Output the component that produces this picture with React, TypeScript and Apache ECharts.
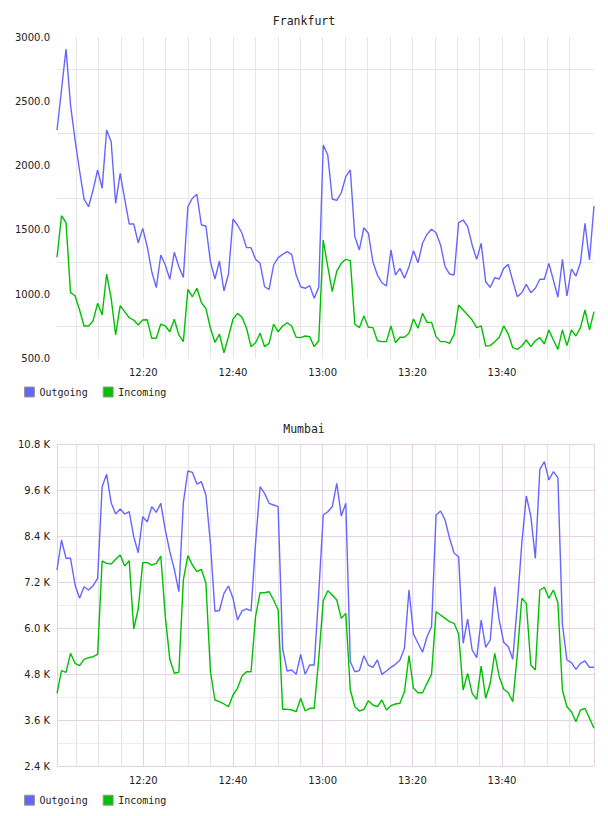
import React, { useEffect, useRef } from 'react';
import * as echarts from 'echarts';

// Sampling: first sample at 12:00:45, then one every ~60.4 s (minutes after 12:00)
const SAMPLE_START_MIN = 0.75;
const SAMPLE_STEP_MIN = 1.0064;

const timeLabels = ['12:20', '12:40', '13:00', '13:20', '13:40'];
const frankfurtYLabels = ['500.0', '1000.0', '1500.0', '2000.0', '2500.0', '3000.0'];
const mumbaiYLabels = ['2.4 K', '3.6 K', '4.8 K', '6.0 K', '7.2 K', '8.4 K', '9.6 K', '10.8 K'];
const seriesNames = ['Outgoing', 'Incoming'];

const frankfurtOutgoing = [
  2277, 2590, 2907, 2470, 2200, 1960, 1740, 1680, 1810, 1966,
  1823, 2277, 2186, 1707, 1940, 1740, 1546, 1546, 1400, 1512,
  1369, 1175, 1051, 1305, 1227, 1116, 1326, 1214, 1131, 1680,
  1746, 1777, 1538, 1530, 1253, 1118, 1258, 1025, 1157, 1585,
  1538, 1474, 1362, 1362, 1271, 1240, 1058, 1038, 1227, 1284,
  1310, 1331, 1310, 1149, 1058, 1046, 1066, 968, 1053, 2160,
  2082, 1740, 1730, 1789, 1914, 1966, 1447, 1344, 1517, 1474,
  1253, 1149, 1089, 1064, 1344, 1149, 1201, 1124, 1214, 1338,
  1245, 1396, 1466, 1505, 1478, 1383, 1214, 1157, 1149, 1556,
  1577, 1525, 1383, 1271, 1396, 1097, 1053, 1128, 1118, 1201,
  1232, 1103, 981, 1012, 1077, 1012, 1046, 1116, 1116, 1240,
  1110, 976, 1271, 986, 1196, 1141, 1245, 1551, 1266, 1686,
];

const frankfurtIncoming = [
  1287, 1610, 1556, 1012, 988, 877, 753, 753, 794, 929,
  838, 1157, 968, 683, 911, 864, 817, 799, 760, 799,
  801, 657, 657, 768, 753, 708, 805, 683, 631, 1038,
  980, 1046, 935, 890, 735, 626, 690, 545, 670, 805,
  851, 820, 735, 592, 623, 696, 592, 618, 768, 708,
  753, 778, 753, 665, 662, 675, 670, 592, 638, 1421,
  1214, 1020, 1180, 1240, 1271, 1261, 766, 740, 830, 743,
  740, 638, 631, 631, 753, 623, 665, 665, 696, 807,
  735, 851, 781, 781, 670, 631, 631, 618, 688, 916,
  877, 838, 799, 740, 753, 597, 600, 631, 665, 753,
  690, 584, 571, 597, 644, 592, 638, 662, 613, 722,
  644, 571, 722, 600, 722, 675, 740, 877, 722, 864,
];

const mumbaiOutgoing = [
  7518, 8301, 7823, 7823, 7126, 6779, 7082, 6995, 7108, 7301,
  9693, 10016, 9275, 8980, 9110, 8980, 9040, 8387, 7969, 8910,
  8779, 9170, 9024, 9259, 8562, 7996, 7536, 6951, 9275, 10103,
  10068, 9763, 9824, 9476, 8215, 6440, 6460, 6909, 7100, 6779,
  6212, 6450, 6500, 6450, 8215, 9693, 9519, 9259, 9215, 9171,
  5473, 4880, 4907, 4794, 5316, 4794, 5037, 5037, 6900, 8954,
  9040, 9171, 9781, 8928, 9259, 5123, 4862, 4889, 5280, 5037,
  4977, 5168, 4794, 4880, 4977, 5055, 5168, 5473, 6995, 5847,
  5604, 5369, 5776, 6037, 8954, 9058, 8823, 8345, 7954, 7865,
  5604, 6238, 5429, 5228, 6212, 5499, 5690, 7082, 6200, 5630,
  5516, 5186, 6600, 8215, 9450, 8928, 7823, 10147, 10346, 9868,
  10085, 9928, 6100, 5168, 5097, 4925, 5081, 5142, 4977, 4977,
];

const mumbaiIncoming = [
  4298, 4889, 4847, 5342, 5081, 5019, 5186, 5228, 5254, 5316,
  7753, 7692, 7675, 7797, 7909, 7622, 7762, 5977, 6500, 7710,
  7710, 7648, 7692, 7883, 6300, 5186, 4821, 4847, 7257, 7892,
  7648, 7474, 7536, 7170, 4862, 4123, 4079, 4019, 3948, 4254,
  4429, 4750, 4862, 4862, 6300, 6925, 6925, 6951, 6734, 6473,
  3880, 3880, 3862, 3818, 4168, 3836, 3906, 3906, 5200, 6717,
  6977, 6864, 6734, 6256, 6386, 4384, 3948, 3836, 3880, 4105,
  3993, 3948, 4123, 3862, 3975, 4019, 4037, 4340, 5280, 4429,
  4314, 4314, 4559, 4794, 6429, 6343, 6256, 6168, 6125, 5847,
  4384, 4820, 4298, 4142, 5011, 4168, 4559, 5342, 4731, 4403,
  4314, 4079, 5300, 6779, 6647, 5037, 4907, 6995, 7066, 6779,
  6995, 6664, 4384, 3948, 3818, 3557, 3862, 3906, 3645, 3384,
];

const BLUE = '#6666ff';
const GREEN = '#00c000';
const GREY = '#e6e6e6';
const PINK_MAJOR = '#e6d0e6';
const PINK_MINOR_H = '#f1eaf1';
const PINK_MINOR_V = '#e7e2e7';
const TRANSPARENT = 'rgba(0,0,0,0)';
const LABEL_FONT = 'DejaVu Sans';
const MONO_FONT = 'DejaVu Sans Mono';

const sampleMinutes = frankfurtOutgoing.map((_, i) => SAMPLE_START_MIN + i * SAMPLE_STEP_MIN);
const X_MIN = sampleMinutes[0];
const X_MAX = sampleMinutes[sampleMinutes.length - 1];

function minuteLabel(m: number): string {
  const h = 12 + Math.floor(m / 60);
  const mm = Math.round(m % 60);
  return `${h}:${mm < 10 ? '0' + mm : mm}`;
}

// tick list ECharts will produce for the x axis (edges + multiples of 5)
function xTickList(): number[] {
  const t = [X_MIN];
  for (let m = 5; m < X_MAX - 1e-9; m += 5) if (m > X_MIN + 1e-9) t.push(m);
  t.push(X_MAX);
  return t;
}

function isMultiple(v: number, step: number) {
  const r = v / step;
  return Math.abs(r - Math.round(r)) < 1e-6;
}

function xAxisFor(gridIndex: number, mumbai: boolean, labelMargin: number) {
  const ticks = xTickList();
  const colors = ticks.map((t, i) => {
    const edge = i === 0 || i === ticks.length - 1;
    if (edge) return mumbai ? PINK_MAJOR : TRANSPARENT;
    if (t >= 120) return TRANSPARENT;
    if (mumbai) return isMultiple(t, 20) ? PINK_MAJOR : PINK_MINOR_V;
    return GREY;
  });
  return {
    type: 'value',
    gridIndex,
    min: X_MIN,
    max: X_MAX,
    splitNumber: 24,
    axisLine: { show: false },
    axisTick: { show: false },
    axisLabel: {
      margin: labelMargin,
      color: '#222',
      fontFamily: LABEL_FONT,
      fontSize: 10,
      formatter: (v: number) => {
        const lbl = minuteLabel(v);
        return isMultiple(v, 5) && timeLabels.includes(lbl) ? lbl : '';
      },
    },
    splitLine: { show: true, lineStyle: { color: colors, width: 1 } },
  };
}

export default function App() {
  const ref = useRef<HTMLDivElement>(null);

  useEffect(() => {
    if (!ref.current) return;
    const chart = echarts.init(ref.current, undefined, { renderer: 'svg' });

    const pts = (vals: number[]) => vals.map((v, i) => [sampleMinutes[i], v]);
    const lineSeries = (name: string, color: string, vals: number[], idx: number) => ({
      name,
      type: 'line',
      xAxisIndex: idx,
      yAxisIndex: idx,
      data: pts(vals),
      showSymbol: false,
      symbol: 'none',
      color,
      lineStyle: { color, width: 1.4 },
      emphasis: { disabled: true },
    });

    const legendFor = (top: number) => ({
      data: seriesNames,
      left: 19,
      top,
      icon: 'rect',
      itemWidth: 10,
      itemHeight: 10,
      itemGap: 15,
      itemStyle: { borderColor: '#999', borderWidth: 1 },
      textStyle: { fontFamily: MONO_FONT, fontSize: 10, color: '#222' },
    });

    const titleFor = (text: string, top: number) => ({
      text,
      left: 'center',
      top,
      textStyle: { fontFamily: MONO_FONT, fontSize: 11.5, fontWeight: 'normal', color: '#222' },
    });

    chart.setOption({
      animation: false,
      backgroundColor: '#fff',
      title: [titleFor('Frankfurt', 9.5), titleFor('Mumbai', 417.5)],
      legend: [legendFor(381.5), legendFor(789.7)],
      grid: [
        { left: 57, width: 537, top: 37, height: 321.5 },
        { left: 57, width: 537, top: 444.3, height: 321.7 },
      ],
      xAxis: [xAxisFor(0, false, 9), xAxisFor(1, true, 9.5)],
      yAxis: [
        {
          type: 'value',
          gridIndex: 0,
          min: 500,
          max: 3000,
          interval: 250,
          axisLine: { show: false },
          axisTick: { show: false },
          axisLabel: {
            margin: 7,
            color: '#222',
            fontFamily: LABEL_FONT,
            fontSize: 10,
            formatter: (v: number) => {
              const s = v.toFixed(1);
              return frankfurtYLabels.includes(s) ? s : '';
            },
          },
          splitLine: { show: true, lineStyle: { color: [TRANSPARENT, GREY], width: 1 } },
        },
        {
          type: 'value',
          gridIndex: 1,
          min: 2400,
          max: 10800,
          interval: 600,
          axisLine: { show: false },
          axisTick: { show: false },
          axisLabel: {
            margin: 7,
            color: '#222',
            fontFamily: LABEL_FONT,
            fontSize: 10,
            formatter: (v: number) => {
              const s = (v / 1000).toFixed(1) + ' K';
              return mumbaiYLabels.includes(s) ? s : '';
            },
          },
          splitLine: { show: true, lineStyle: { color: [PINK_MAJOR, PINK_MINOR_H], width: 1 } },
        },
      ],
      series: [
        lineSeries('Outgoing', BLUE, frankfurtOutgoing, 0),
        lineSeries('Incoming', GREEN, frankfurtIncoming, 0),
        lineSeries('Outgoing', BLUE, mumbaiOutgoing, 1),
        lineSeries('Incoming', GREEN, mumbaiIncoming, 1),
      ],
    });

    return () => chart.dispose();
  }, []);

  return (
    <div
      ref={ref}
      style={{ position: 'absolute', left: 0, top: 0, width: 608, height: 816, background: '#fff' }}
    />
  );
}
